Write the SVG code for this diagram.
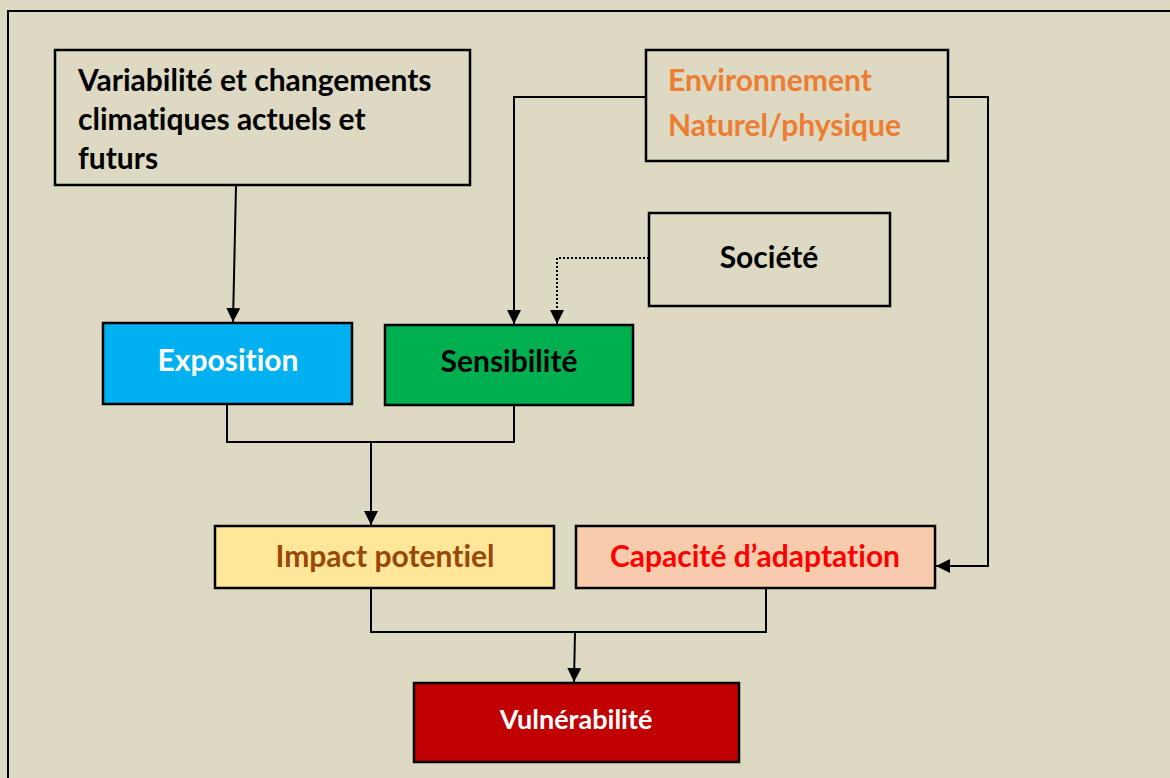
<svg xmlns="http://www.w3.org/2000/svg" width="1170" height="778" viewBox="0 0 1170 778">
  <defs>
    <marker id="arrow" viewBox="0 0 10 10" refX="10" refY="5" markerWidth="14" markerHeight="14" markerUnits="userSpaceOnUse" orient="auto">
      <path d="M0,0 L10,5 L0,10 Z" fill="#000"/>
    </marker>
    <style>
      .box { stroke: #000; stroke-width: 2.5; }
      .lbl { font-family: Lato, "Open Sans", "Liberation Sans", sans-serif; font-weight: bold; font-size: 30px; font-variant-ligatures: none; }
      .mid { text-anchor: middle; }
      .wire { fill: none; stroke: #000; stroke-width: 2; }
      .dot { stroke-dasharray: 2 2; }
    </style>
  </defs>

  <!-- page background and frame -->
  <rect x="0" y="0" width="1170" height="778" fill="#DDD9C3"/>
  <path d="M8,778 V11 H1170" fill="none" stroke="#000" stroke-width="2"/>

  <g id="variabilite">
    <rect class="box" x="55" y="50" width="415" height="135" fill="#DDD9C3"/>
    <text class="lbl" x="78" y="91" fill="#000">Variabilité et changements</text>
    <text class="lbl" x="78" y="130" fill="#000">climatiques actuels et</text>
    <text class="lbl" x="78" y="169" fill="#000">futurs</text>
  </g>

  <g id="environnement">
    <rect class="box" x="646" y="50" width="302" height="111" fill="#DDD9C3"/>
    <text class="lbl" x="668" y="91" fill="#ED7D31">Environnement</text>
    <text class="lbl" x="668" y="136" fill="#ED7D31">Naturel/physique</text>
  </g>

  <g id="societe">
    <rect class="box" x="649" y="213" width="241" height="93" fill="#DDD9C3"/>
    <text class="lbl mid" x="769" y="268" fill="#000">Société</text>
  </g>

  <g id="exposition">
    <rect class="box" x="103" y="323" width="249" height="81" fill="#00B0F0"/>
    <text class="lbl mid" x="228" y="371" fill="#FFF">Exposition</text>
  </g>

  <g id="sensibilite">
    <rect class="box" x="385" y="325" width="248" height="80" fill="#00B050"/>
    <text class="lbl mid" x="509" y="372" fill="#000">Sensibilité</text>
  </g>

  <g id="impact">
    <rect class="box" x="215" y="526" width="339" height="62" fill="#FFE699"/>
    <text class="lbl mid" x="385" y="567" fill="#984807">Impact potentiel</text>
  </g>

  <g id="capacite">
    <rect class="box" x="576" y="526" width="359" height="62" fill="#F8CBAD"/>
    <text class="lbl mid" x="755" y="567" fill="#FF0000">Capacité d’adaptation</text>
  </g>

  <g id="vulnerabilite">
    <rect class="box" x="414" y="683" width="325" height="79" fill="#C00000"/>
    <text class="lbl mid" x="576" y="729" fill="#FFF" style="font-size:27px">Vulnérabilité</text>
  </g>

  <g id="connectors">
    <path class="wire" d="M236,186 L233,322" marker-end="url(#arrow)"/>
    <path class="wire" d="M646,97 H514 V324" marker-end="url(#arrow)"/>
    <path class="wire dot" d="M649,258 H557 V324" marker-end="url(#arrow)"/>
    <path class="wire" d="M948,97 H988 V566 H936" marker-end="url(#arrow)"/>
    <path class="wire" d="M227,404 V442 H514 V405"/>
    <path class="wire" d="M371,442 V525" marker-end="url(#arrow)"/>
    <path class="wire" d="M371,588 V632 H766 V588"/>
    <path class="wire" d="M575,632 L574,682" marker-end="url(#arrow)"/>
  </g>
</svg>
